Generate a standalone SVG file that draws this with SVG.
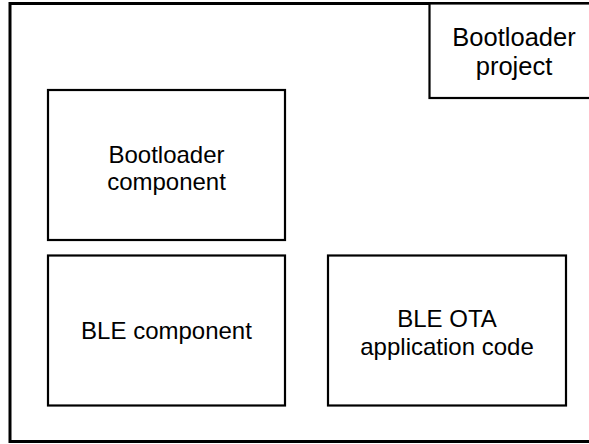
<svg xmlns="http://www.w3.org/2000/svg" width="589" height="444" viewBox="0 0 589 444">
<style>
.frame{fill:none;stroke:#000;stroke-width:3}
.box{fill:#fff;stroke:#000;stroke-width:2.2}
.lbl{font-family:"Liberation Sans",Arial,sans-serif;font-size:24px;fill:#000;text-anchor:middle}
.big{font-size:25.5px}
</style>
<rect width="589" height="444" fill="#fff"/>
<g id="frame"><rect class="frame" x="10" y="3.5" width="600" height="438"/></g>
<g id="bootloader-project">
<rect class="box" x="429.5" y="3.5" width="180" height="94.5"/>
<text class="lbl big" x="514" y="46">Bootloader</text>
<text class="lbl big" x="514" y="75">project</text>
</g>
<g id="bootloader-component">
<rect class="box" x="48" y="90" width="237" height="150"/>
<text class="lbl" x="166.5" y="163">Bootloader</text>
<text class="lbl" x="166.5" y="190">component</text>
</g>
<g id="ble-component">
<rect class="box" x="48" y="255.5" width="237" height="150"/>
<text class="lbl" x="166.5" y="339">BLE component</text>
</g>
<g id="ble-ota">
<rect class="box" x="328" y="255.5" width="238" height="150"/>
<text class="lbl" x="447" y="327">BLE OTA</text>
<text class="lbl" x="447" y="355">application code</text>
</g>
<g id="connectors"></g>
</svg>
